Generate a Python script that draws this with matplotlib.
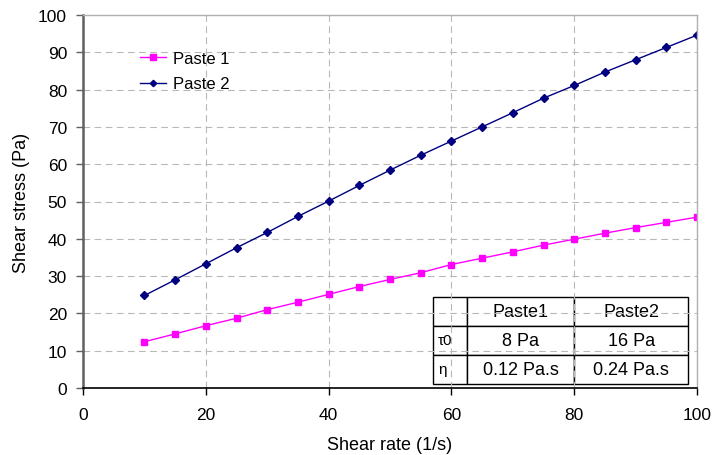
import matplotlib
matplotlib.use("Agg")
import matplotlib.pyplot as plt

plt.rcParams['font.family'] = ['Liberation Sans', 'DejaVu Sans']

shear_rate = [10, 15, 20, 25, 30, 35, 40, 45, 50, 55, 60, 65, 70, 75, 80, 85, 90, 95, 100]
paste1 = [12.4, 14.5, 16.7, 18.7, 21.0, 23.0, 25.1, 27.2, 29.1, 30.9, 33.1, 34.8, 36.5,
          38.3, 39.9, 41.5, 43.0, 44.4, 45.8]
paste2 = [24.8, 29.0, 33.3, 37.6, 41.7, 46.0, 50.1, 54.3, 58.4, 62.4, 66.2, 70.0, 73.8,
          77.7, 81.1, 84.7, 88.0, 91.3, 94.6]

table_cols = ["", "Paste1", "Paste2"]
table_rows = [["τ0", "8 Pa", "16 Pa"],
              ["η", "0.12 Pa.s", "0.24 Pa.s"]]

fig = plt.figure(figsize=(7.12, 4.56), dpi=100)
ax = fig.add_axes([83/712, 1 - 389/456, (697 - 83)/712, (389 - 16)/456])

ax.plot(shear_rate, paste1, color='#FF00FF', marker='s', markersize=4.5, lw=1.0,
        label='Paste 1')
ax.plot(shear_rate, paste2, color='#000080', marker='D', markersize=3.8, lw=1.0,
        label='Paste 2')

ax.set_xlim(0, 100)
ax.set_ylim(0, 100)
ax.set_xticks(range(0, 101, 20))
ax.set_yticks(range(0, 101, 10))
ax.grid(True, color='#b8b8b8', linestyle=(0, (6, 4)), lw=0.8)
ax.set_axisbelow(True)
ax.tick_params(labelsize=12.5, length=5, width=1, color='black')
ax.tick_params(axis='x', pad=9)
ax.tick_params(axis='y', color='#606060', pad=6.5)

for s in ['top', 'right']:
    ax.spines[s].set_color('#b0b0b0')
    ax.spines[s].set_linewidth(1)
ax.spines['left'].set_color('#606060')
ax.spines['left'].set_linewidth(1.8)
ax.spines['bottom'].set_color('black')
ax.spines['bottom'].set_linewidth(1.2)

ax.set_xlabel('Shear rate (1/s)', fontsize=13, labelpad=10)
ax.set_ylabel('Shear stress (Pa)', fontsize=13, labelpad=6)

leg = ax.legend(loc='upper left', bbox_to_anchor=(0.068, 0.945), frameon=False,
                fontsize=12, handlelength=1.6, handletextpad=0.4, labelspacing=0.65,
                markerscale=0.85)

# parameter table, lower right
x0, x1 = 57.0 / 100, 98.6 / 100
y0, y1 = 1.1 / 100, 24.5 / 100
tbl = ax.table(cellText=table_rows, colLabels=table_cols,
               colWidths=[5.5, 17.5, 18.6], cellLoc='center',
               bbox=[x0, y0, x1 - x0, y1 - y0])
tbl.auto_set_font_size(False)
for (r, c), cell in tbl.get_celld().items():
    cell.set_edgecolor('black')
    cell.set_linewidth(1.0)
    cell.set_facecolor('white')
    cell.get_text().set_fontsize(13)
    if c == 0:
        cell.get_text().set_fontsize(11)
        cell.set_text_props(ha='left', va='center')
        cell.PAD = 0.15

fig.savefig('out.png', dpi=100)
